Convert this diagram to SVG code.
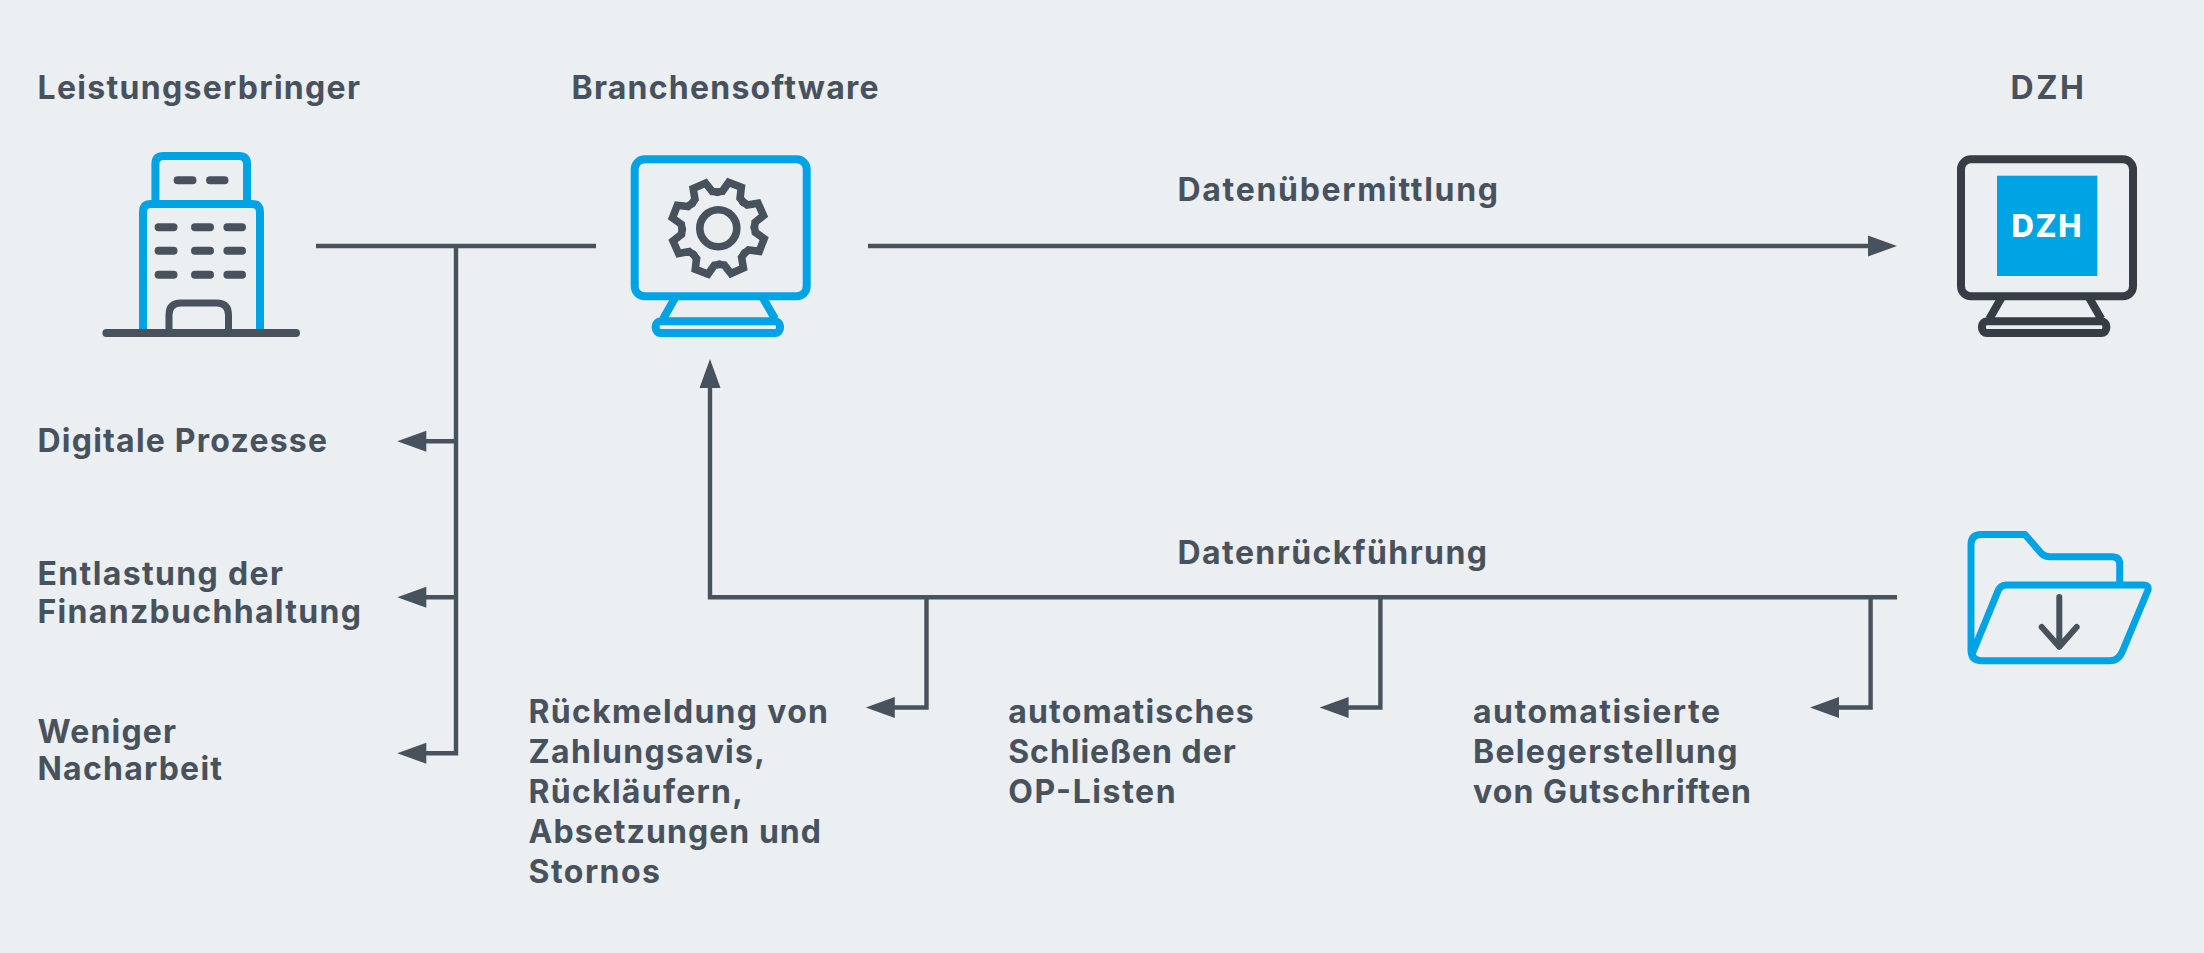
<svg xmlns="http://www.w3.org/2000/svg" width="2204" height="953" viewBox="0 0 2204 953">
<style>
.t{font-family:"Inter","Liberation Sans",sans-serif;font-weight:700;font-size:32px;fill:#48525c}
.c{fill:none;stroke:#48525c;stroke-width:4.4}
.b{fill:none;stroke:#00a3e4;stroke-width:8;stroke-linejoin:round}
.k{fill:none;stroke:#373d45;stroke-width:8;stroke-linejoin:round}
.g{fill:none;stroke:#48525c;stroke-width:7.600;stroke-linecap:round}
.w{fill:none;stroke:#48525c;stroke-width:8;stroke-linecap:round}
.h{fill:#48525c}
</style>
<defs>
<path id="tooth" d="M-13.8-33.3Q-11.5-35-9.5-36L-6.8-46.5L6.8-46.5L9.5-36Q11.5-35 13.8-33.3" stroke-linecap="round" stroke-linejoin="miter"/>
<path id="ah" d="M0 0L29-10.5V10.5Z"/>
</defs>
<rect width="2204" height="953" fill="#ebeff2"/>
<g id="connectors">
<path class="c" d="M316 246H596M456 246V753.3H426M456 441.3H426M456 597.3H426"/>
<use href="#ah" class="h" x="397.3" y="441.3"/>
<use href="#ah" class="h" x="397.3" y="597.3"/>
<use href="#ah" class="h" x="397.3" y="753.3"/>
<path class="c" d="M868 246H1870"/>
<use href="#ah" class="h" transform="translate(1897 246) rotate(180)"/>
<path class="c" d="M1897 597.3H710V385"/>
<use href="#ah" class="h" transform="translate(710 359) rotate(90)"/>
<path class="c" d="M926.5 597.3V707.5H894"/>
<use href="#ah" class="h" x="865.8" y="707.5"/>
<path class="c" d="M1380.4 597.3V707.5H1348"/>
<use href="#ah" class="h" x="1319.6" y="707.5"/>
<path class="c" d="M1870.6 597.3V707.5H1839"/>
<use href="#ah" class="h" x="1810" y="707.5"/>
</g>
<g id="node-leistungserbringer">
<text class="t" x="37.500" y="98.7" textLength="322.500">Leistungserbringer</text>
<path class="b" d="M155.4 204V164Q155.4 156 163.4 156H239Q247 156 247 164V204"/>
<path class="b" d="M143 333V212Q143 204 151 204H252Q260 204 260 212V333"/>
<path class="g" style="stroke-width:7" d="M169 333V315Q169 303 181 303H216.500Q228.500 303 228.500 315V333"/>
<path class="w" d="M106.400 333H296M177.600 180.300H192.500M210 180.300H224.500M158.600 227.300H173.500M195 227.300H210M227.400 227.300H242M158.600 250.700H173.500M195 250.700H210M227.400 250.700H242M158.600 274.700H173.500M195 274.700H210M227.400 274.700H242"/>
</g>
<g id="node-branchensoftware">
<text class="t" x="571.500" y="98.7" textLength="307">Branchensoftware</text>
<rect class="b" x="634.700" y="159.300" width="172" height="137" rx="10"/>
<path class="b" d="M675 298L663 319M763 298L775 319"/>
<rect class="b" x="655.700" y="321.300" width="124.300" height="11.800" rx="5"/>
<g class="g">
<circle cx="718.300" cy="228.300" r="18.500"/>
<g transform="translate(718.300 228.300)">
<use href="#tooth" transform="rotate(21)"/><use href="#tooth" transform="rotate(66)"/><use href="#tooth" transform="rotate(111)"/><use href="#tooth" transform="rotate(156)"/><use href="#tooth" transform="rotate(201)"/><use href="#tooth" transform="rotate(246)"/><use href="#tooth" transform="rotate(291)"/><use href="#tooth" transform="rotate(336)"/>
</g>
</g>
</g>
<g id="node-dzh">
<text class="t" x="2010.500" y="98.7" textLength="73.500">DZH</text>
<rect class="k" x="1961" y="159.300" width="172" height="137" rx="10"/>
<path class="k" d="M2001.300 298L1989.300 319M2089.300 298L2101.300 319"/>
<rect class="k" x="1982" y="321.300" width="124.300" height="11.800" rx="5"/>
<rect x="1997" y="175.700" width="100.300" height="100.300" fill="#00a3e4"/>
<text x="2011.500" y="237" textLength="70" style="font-family:'Inter','Liberation Sans',sans-serif;font-weight:800;font-size:31px;fill:#fff">DZH</text>
</g>
<g id="node-folder">
<path class="b" style="stroke-width:7" d="M1982 660.700H2110Q2119 660.700 2123 650L2148 590Q2149 585 2144 585H2007Q2000 585 1997.700 591.700L1971.700 655M1982 660.700Q1971 660.700 1971 650V545Q1971 534.500 1981 534.500H2025L2041 553Q2044 556.700 2050 556.700H2112Q2119.700 556.700 2119.700 564V585"/>
<path class="g" style="stroke-width:6;stroke-linejoin:round" d="M2059.300 597V646.700M2041.700 627L2059.300 646.700L2076.700 627"/>
</g>
<g id="labels">
<text class="t" x="37.500" y="451.500" textLength="289.500">Digitale Prozesse</text>
<text class="t" x="37.500" y="585" textLength="245.500">Entlastung der</text>
<text class="t" x="37.500" y="622.500" textLength="323.500">Finanzbuchhaltung</text>
<text class="t" x="37.500" y="743" textLength="138.500">Weniger</text>
<text class="t" x="37.500" y="780" textLength="184.500">Nacharbeit</text>
<text class="t" x="1177.500" y="201" textLength="320.500">Datenübermittlung</text>
<text class="t" x="1177.500" y="563.500" textLength="309.500">Datenrückführung</text>
<text class="t" x="528.500" y="723" textLength="299.500">Rückmeldung von</text>
<text class="t" x="528.500" y="763" textLength="236.500">Zahlungsavis,</text>
<text class="t" x="528.500" y="803" textLength="214.500">Rückläufern,</text>
<text class="t" x="528.500" y="843" textLength="292.500">Absetzungen und</text>
<text class="t" x="528.500" y="883" textLength="131.500">Stornos</text>
<text class="t" x="1008.200" y="723.300" textLength="245.500">automatisches</text>
<text class="t" x="1008.200" y="763" textLength="227.500">Schließen der</text>
<text class="t" x="1008.200" y="803" textLength="167.500">OP-Listen</text>
<text class="t" x="1473" y="723" textLength="247">automatisierte</text>
<text class="t" x="1473" y="763" textLength="264.500">Belegerstellung</text>
<text class="t" x="1473" y="803" textLength="278">von Gutschriften</text>
</g>
</svg>
